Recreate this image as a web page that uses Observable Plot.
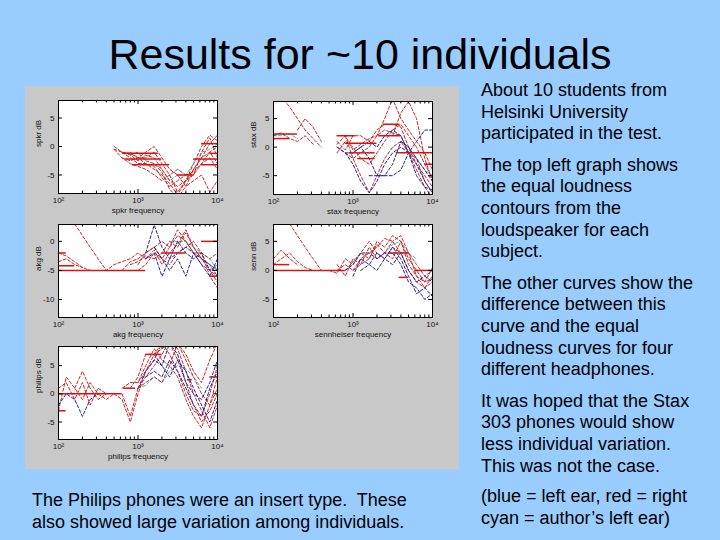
<!DOCTYPE html>
<html><head><meta charset="utf-8">
<script src="https://cdn.jsdelivr.net/npm/d3@7"></script>
<script src="https://cdn.jsdelivr.net/npm/@observablehq/plot@0.6"></script>
<style>
body{margin:0;width:720px;height:540px;background:#99ccff;font-family:"Liberation Sans",Arial,sans-serif;position:relative;overflow:hidden;color:#000}
#title{position:absolute;left:0;width:720px;top:36px;text-align:center;font-size:43px;line-height:36px}
#gray{position:absolute;left:25px;top:86px;width:434px;height:383px;background:#c8c8c8}
.pan{position:absolute}
#right{position:absolute;left:481px;top:80px;width:236px;font-size:18px;line-height:21.6px}
#right p{margin:0 0 10px 0}
#legend{position:absolute;left:481px;top:486px;font-size:18px;line-height:21.6px;width:236px}
#bottom{position:absolute;left:32px;top:490px;font-size:18px;line-height:21.6px;width:440px}
</style></head>
<body>
<div id="title">Results for ~10 individuals</div>
<div id="gray"></div>
<div id="right">
<p>About 10 students from<br>Helsinki University<br>participated in the test.</p>
<p>The top left graph shows<br>the equal loudness<br>contours from the<br>loudspeaker for each<br>subject.</p>
<p>The other curves show the<br>difference between this<br>curve and the equal<br>loudness curves for four<br>different headphones.</p>
<p>It was hoped that the Stax<br>303 phones would show<br>less individual variation.<br>This was not the case.</p>
</div>
<div id="legend">(blue = left ear, red = right<br>cyan = author’s left ear)</div>
<div id="bottom">The Philips phones were an insert type.&nbsp; These<br>also showed large variation among individuals.</div>
<script>
// third-octave frequencies (Hz)
const freq = [100,125,160,200,250,315,400,500,630,800,1000,1250,1600,2000,2500,3150,4000,5000,6300,8000,10000];
const majorX = [100,1000,10000];
const minorX = [200,300,400,500,600,700,800,900,2000,3000,4000,5000,6000,7000,8000,9000];

// ---- loudspeaker (spkr) ----
const spkrRed = [
  {500:-0.5,630:-1,800:-1.5,1000:-2.5,1250:-1.5,1600:-2,2000:-4,2500:-6,3150:-7,4000:-6,5000:-4,6300:-2,8000:0.5,10000:2},
  {500:0,630:-1,800:-1.2,1000:-2,1250:-3,1600:-4,2000:-5,2500:-6.5,3150:-8.5,4000:-6,5000:-5,6300:-3,8000:-1,10000:0},
  {630:-1,800:-2,1000:-3,1250:-3,1600:-3.5,2000:-5.5,2500:-7,3150:-6,4000:-5,5000:-4.5,6300:-3,8000:-2,10000:-4},
  {630:-2,800:-2.5,1000:-2,1250:-1,1600:0,2000:-2,2500:-4,3150:-5,4000:-7,5000:-6,6300:-5,8000:-8,10000:-6},
  {800:-1,1000:-2,1250:-2,1600:-1,2000:-3,2500:-5,3150:-8,4000:-6,5000:-3,6300:0,8000:2,10000:1},
  {500:-0.5,630:-2,800:-3,1000:-3.5,1250:-4,1600:-5,2000:-6,2500:-5,3150:-4,4000:-5,5000:-5,6300:-1,8000:1.5,10000:-2},
  {800:-1.5,1000:-1,1250:-2.5,1600:-3,2000:-4.5,2500:-7.5,3150:-9,4000:-7,5000:-4,6300:-2,8000:-1,10000:-3}
];
const spkrBlue = [];
const spkrCyan = [{1600:-3,2000:-4,2500:-6,3150:-5,4000:-5,5000:-3,6300:-1,8000:-0.5,10000:0.5}];
const spkrSegs = [[640,1800,-1.2],[700,2000,-2.2],[850,2500,-3.2],[3100,5000,-5],[6300,10000,0.5],[8000,10000,-1.2],[5000,10000,-2.2],[6300,10000,-3.2]];

// ---- Stax ----
const staxRed = [
  {125:9,160:7,200:5,250:3,315:1.5,400:0},
  {100:2,125:2.5,160:1.5,200:1,250:2,315:0.5},
  {200:3,250:5,315:3.5,400:1},
  {630:1,800:-0.5,1000:2,1250:2,1600:1,2000:3,2500:4,3150:4,4000:3.5,5000:0,6300:-3,8000:-5,10000:-7},
  {630:0,800:-1,1000:-2,1250:-1,1600:0,2000:2,2500:3,3150:2.5,4000:2,5000:-1,6300:-2,8000:-6,10000:-8},
  {630:-1,800:1,1000:0,1250:-2,1600:-3,2000:-1,2500:1,3150:3,4000:4,5000:2,6300:0,8000:-3,10000:-5.5},
  {800:2,1000:-2,1250:-5,1600:-8,2000:-5,2500:-2,3150:0,4000:1,5000:-1,6300:-4,8000:-7,10000:-9},
  {630:0.5,800:2,1000:-0.5,1250:0.5,1600:1.5,2000:2,2500:5,3150:8.5,4000:5,5000:3,6300:1,8000:-1,10000:-4},
  {3150:2,4000:6,5000:8,6300:5,8000:-2,10000:-6}
];
const staxBlue = [
  {630:0,800:-1,1000:-3,1250:-6,1600:-8,2000:-6,2500:-3,3150:-1,4000:0,5000:-1,6300:-3,8000:-6,10000:-8},
  {800:-1,1000:-1,1250:0,1600:-2,2000:-5,2500:-5,3150:-3,4000:1,5000:0,6300:-2,8000:-4,10000:-6},
  {1600:-5,2000:-5,2500:-5,3150:-5,4000:-4,5000:-1,6300:1,8000:3,10000:3},
  {1000:-1,1250:0,1600:1,2000:0,2500:2,3150:3,4000:2,5000:-1,6300:-5,8000:-7,10000:-7.5}
];
const staxCyan = [{100:2,125:2,160:2.3,200:1.5},{4000:1,5000:0,6300:-2,8000:-4,10000:-5}];
const staxSegs = [[100,200,2.3],[100,160,1.5],[630,1070,2],[800,2000,0.7],[900,1900,-1],[1150,1900,-2],[2400,3900,4],[2100,4000,2],[3500,10000,-1],[8000,10000,-3]];

// ---- AKG ----
const akgRed = [
  {160:3,200:1,250:-1,315:-3,400:-5,500:-4,630:-3.5,800:-3,1000:-2,1250:-3},
  {100:-2,125:-2.5,160:-3.5,200:-4.5,250:-5},
  {100:-3.5,125:-3,160:-4,200:-4.5},
  {630:-5,800:-3.5,1000:-3,1250:-2,1600:-1,2000:0,2500:-1,3150:1,4000:0,5000:-2,6300:-4,8000:-5,10000:-7},
  {800:-4,1000:-3.5,1250:-2.5,1600:-3,2000:-2,2500:0,3150:-1,4000:1.5,5000:-1,6300:-3,8000:-5,10000:-6},
  {1000:-5,1250:-4,1600:-2,2000:-3,2500:-1,3150:2,4000:0,5000:-2,6300:-2,8000:-6,10000:-8},
  {1250:-3,1600:-1.5,2000:-4,2500:-2,3150:-0.5,4000:2,5000:-1,6300:-3,8000:-4,10000:-5},
  {1000:-4,1250:-2,1600:-1,2000:-3,2500:-4,3150:-2,4000:-1,5000:0,6300:-2,8000:-3,10000:-2}
];
const akgBlue = [
  {1250:-2,1600:2.8,2000:-1,2500:-3,3150:-2,4000:-1,5000:-2,6300:-3,8000:-4,10000:-6},
  {1250:-3,1600:-2,2000:-6,2500:-3,3150:0,4000:-2,5000:-3,6300:-2,8000:-5,10000:-4},
  {1600:-1,2000:-3,2500:-5,3150:-3,4000:-6,5000:-2,6300:-4,8000:-6,10000:-3}
];
const akgCyan = [{2500:0,3150:0,4000:0,5000:-1,6300:-2,8000:-3,10000:-5}];
const akgSegs = [[100,125,-2],[100,160,-4.2],[100,1250,-5],[2000,4000,-2],[6300,10000,0],[8000,10000,-6]];

// ---- Sennheiser ----
const sennRed = [
  {125:9,160:8,200:6,250:4,315:2,400:0},
  {100:2,125:3.5,160:2,200:1},
  {100:1,125:2,160:3,200:1.5,250:0.5,315:0},
  {630:0,800:1,1000:0,1250:2,1600:3,2000:4,2500:5.5,3150:5,4000:3,5000:0,6300:-2,8000:-3,10000:-2},
  {500:0,630:-0.5,800:2,1000:1,1250:3,1600:2,2000:5,2500:4,3150:6,4000:5,5000:1,6300:-1,8000:-3,10000:-1},
  {800:0,1000:1.5,1250:3,1600:5,2000:3,2500:2,3150:4,4000:3,5000:3,6300:1,8000:-1,10000:0},
  {630:1,800:-1,1000:2,1250:1,1600:2,2000:4.5,2500:3,3150:2,4000:5,5000:2,6300:0,8000:-2,10000:-1.5},
  {1000:0,1250:1,1600:4,2000:2,2500:3,3150:5,4000:6,5000:3,6300:-1,8000:-2,10000:0.5}
];
const sennBlue = [
  {800:0,1000:1,1250:3,1600:3,2000:2,2500:3,3150:3,4000:1,5000:-2,6300:-3,8000:-5,10000:-4},
  {1000:-1,1250:2,1600:1,2000:3,2500:2,3150:1,4000:3,5000:0,6300:-2,8000:-1,10000:-2},
  {1250:0,1600:1,2000:0,2500:2,3150:4,4000:2,5000:-1,6300:-4,8000:-3,10000:-4.5}
];
const sennCyan = [{2500:3,3150:4.5,4000:5,5000:3,6300:2}];
const sennSegs = [[100,160,1],[100,800,0],[2900,5000,3],[3800,5000,-1.2],[6000,10000,0]];

// ---- Philips ----
const philRed = [
  {100:-3,125:3,160:1,200:-1,250:2,315:0,400:-1,500:0},
  {100:1,125:2,160:-1,200:2,250:-2,315:1,400:0},
  {160:1,200:4,250:1,315:-1,400:0},
  {500:0,630:-1,800:-5,1000:0,1250:4,1600:7,2000:8,2500:9,3150:6,4000:2,5000:-2,6300:-5,8000:-3,10000:0},
  {630:0,800:-4,1000:1,1250:3,1600:5,2000:7,2500:9.5,3150:8,4000:4,5000:0,6300:-3,8000:-6,10000:-2},
  {630:1,800:2,1000:2,1250:5,1600:8,2000:6,2500:5,3150:9,4000:6,5000:3,6300:0,8000:-2,10000:3},
  {800:1,1000:3,1250:7,1600:7,2000:9,2500:7,3150:4,4000:0,5000:-3,6300:-4,8000:0,10000:5},
  {1000:2,1250:4,1600:6,2000:9,2500:10,3150:9,4000:7,5000:4,6300:2,8000:6,10000:9},
  {1000:1,1250:2,1600:3,2000:2,2500:5,3150:3,4000:-1,5000:-4,6300:-6,8000:-2,10000:1}
];
const philBlue = [
  {100:-2,125:0,160:-1,200:-4,250:-1,315:0},
  {1000:1,1250:4,1600:6,2000:5,2500:9,3150:7,4000:2,5000:0,6300:-1,8000:2,10000:6},
  {1250:3,1600:4,2000:3,2500:6,3150:4,4000:1,5000:-2,6300:-4,8000:1,10000:4},
  {1600:7,2000:5,2500:3,3150:6,4000:4,5000:1,6300:-2,8000:-5,10000:-1}
];
const philCyan = [{1000:1,1250:1.5,1600:3,2000:2,2500:4,3150:5,4000:4.5,5000:3,6300:1}];
const philSegs = [[100,630,0],[100,125,-3],[660,930,1],[1250,2000,7],[4200,4800,2.5],[8000,10000,3]];

const sup = {2:"²",3:"³",4:"⁴"};

function panel(cfg){
  const W=200,H=125,mL=30,mR=11,mT=5,mB=27, iw=W-mL-mR, ih=H-mT-mB;
  const toRows = list => list.flatMap((s,i)=> freq.map(f=>({f, v: s[f]===undefined?NaN:s[f], id:i})));
  const line = (list,color)=> Plot.line(toRows(list), {x:"f", y:"v", z:"id", stroke:color, strokeWidth:1, strokeDasharray:"3,2", clip:true});
  const yMinor = cfg.yTicks;
  return Plot.plot({
    width:W, height:H, marginLeft:mL, marginRight:mR, marginTop:mT, marginBottom:mB,
    style:{background:"transparent", fontFamily:"Liberation Sans, Arial, sans-serif", fontSize:"8px", color:"#111", overflow:"visible"},
    x:{type:"log", domain:[100,10000], axis:null, label:null},
    y:{domain:cfg.yDomain, axis:null, label:null},
    marks:[
      Plot.frame({fill:"white", stroke:null}),
      line(cfg.cyan, "#2fc4c4"),
      line(cfg.red, "#c82828"),
      line(cfg.blue, "#23239a"),
      Plot.ruleY(cfg.segs, {x1:d=>d[0], x2:d=>d[1], y:d=>d[2], stroke:"#d41414", strokeWidth:1.5, clip:true}),
      Plot.tickX(majorX, {x:d=>d, insetTop: ih-4, stroke:"black"}),
      Plot.tickX(majorX, {x:d=>d, insetBottom: ih-4, stroke:"black"}),
      Plot.tickX(minorX, {x:d=>d, insetTop: ih-2.5, stroke:"black"}),
      Plot.tickX(minorX, {x:d=>d, insetBottom: ih-2.5, stroke:"black"}),
      Plot.tickY(yMinor, {y:d=>d, insetRight: iw-4, stroke:"black"}),
      Plot.tickY(yMinor, {y:d=>d, insetLeft: iw-4, stroke:"black"}),
      Plot.frame({stroke:"black", strokeWidth:1}),
      Plot.axisX(majorX, {tickSize:0, tickPadding:4, label:null, tickFormat: d=> "10"+sup[Math.round(Math.log10(d))], fontSize:8}),
      Plot.axisY(cfg.yTicks, {tickSize:0, tickPadding:4, label:null, tickFormat: d=>String(d), fontSize:8}),
      Plot.text([cfg.xlabel], {frameAnchor:"bottom", dy:19, fontSize:8, fill:"#111"}),
      Plot.text([cfg.ylabel], {frameAnchor:"left", dx:-20, rotate:-90, fontSize:8, fill:"#111"})
    ]
  });
}

const panels = [
  {left:28, top:95, red:spkrRed, blue:spkrBlue, cyan:spkrCyan, segs:spkrSegs, yDomain:[-8.25,8.07], yTicks:[-5,0,5], xlabel:"spkr frequency", ylabel:"spkr dB"},
  {left:243, top:96, red:staxRed, blue:staxBlue, cyan:staxCyan, segs:staxSegs, yDomain:[-8.3,8.0], yTicks:[-5,0,5], xlabel:"stax frequency", ylabel:"stax dB"},
  {left:28, top:219, red:akgRed, blue:akgBlue, cyan:akgCyan, segs:akgSegs, yDomain:[-13.1,2.9], yTicks:[-10,-5,0], xlabel:"akg frequency", ylabel:"akg dB"},
  {left:243, top:219, red:sennRed, blue:sennBlue, cyan:sennCyan, segs:sennSegs, yDomain:[-8.1,7.9], yTicks:[-5,0,5], xlabel:"sennheiser frequency", ylabel:"senn dB"},
  {left:28, top:341, red:philRed, blue:philBlue, cyan:philCyan, segs:philSegs, yDomain:[-8.1,8.4], yTicks:[-5,0,5], xlabel:"philips frequency", ylabel:"philips dB"}
];
for (const p of panels){
  const d = document.createElement("div");
  d.className = "pan";
  d.style.left = p.left+"px"; d.style.top = p.top+"px";
  d.appendChild(panel(p));
  document.body.appendChild(d);
}
</script>
</body></html>
